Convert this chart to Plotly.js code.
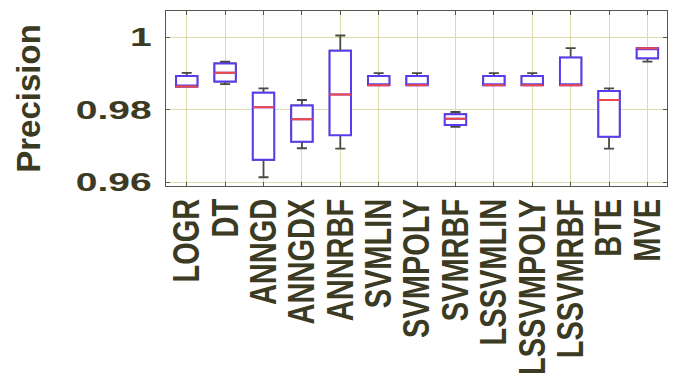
<!DOCTYPE html>
<html>
<head>
<meta charset="utf-8">
<script src="https://cdn.plot.ly/plotly-3.0.1.min.js"></script>
<style>
  html, body { margin: 0; padding: 0; background: #ffffff; }
  #chart { width: 674px; height: 390px; }
</style>
</head>
<body>
<div id="chart"></div>
<script>
// Categories (classifiers)
var categories = ["LOGR", "DT", "ANNGD", "ANNGDX", "ANNRBF", "SVMLIN", "SVMPOLY",
                  "SVMRBF", "LSSVMLIN", "LSSVMPOLY", "LSSVMRBF", "BTE", "MVE"];

// Box statistics
var upperWhisker = [0.9902, 0.9933, 0.9859, 0.9827, 1.0005, 0.9901, 0.9901,
                    0.9794, 0.9901, 0.9901, 0.9970, 0.9859, 0.9970];
var q3Values     = [0.9893, 0.9928, 0.9847, 0.9812, 0.9963, 0.9893, 0.9893,
                    0.9788, 0.9893, 0.9893, 0.9944, 0.9852, 0.9970];
var medianValues = [0.9864, 0.9902, 0.9807, 0.9774, 0.9842, 0.9868, 0.9868,
                    0.9775, 0.9868, 0.9868, 0.9868, 0.9827, 0.9970];
var q1Values     = [0.9864, 0.9878, 0.9662, 0.9712, 0.9730, 0.9868, 0.9868,
                    0.9758, 0.9868, 0.9868, 0.9868, 0.9726, 0.9942];
var lowerWhisker = [0.9864, 0.9871, 0.9614, 0.9694, 0.9693, 0.9868, 0.9868,
                    0.9753, 0.9868, 0.9868, 0.9868, 0.9693, 0.9933];

// Y tick labels
var yTickValues = [0.96, 0.98, 1];
var yTickLabels = ["0.96", "0.98", "1"];

var textColor = "#3b3a22";
var boxWidth = 0.557;

// Whiskers (dark)
var whiskers = {
  type: "box", x: categories,
  q1: q1Values, median: medianValues, q3: q3Values,
  lowerfence: lowerWhisker, upperfence: upperWhisker,
  width: boxWidth, whiskerwidth: 0.47,
  line: { color: "#4a4a40", width: 1.8 },
  fillcolor: "rgba(0,0,0,0)",
  boxpoints: false, hoverinfo: "skip", showlegend: false
};
// Boxes (blue)
var boxes = {
  type: "box", x: categories,
  q1: q1Values, median: medianValues, q3: q3Values,
  lowerfence: q1Values, upperfence: q3Values,
  width: boxWidth, whiskerwidth: 0,
  line: { color: "#5a3cf0", width: 2 },
  fillcolor: "rgba(255,255,255,1)",
  boxpoints: false, hoverinfo: "skip", showlegend: false
};
// Medians (red)
var medians = {
  type: "box", x: categories,
  q1: medianValues, median: medianValues, q3: medianValues,
  lowerfence: medianValues, upperfence: medianValues,
  width: boxWidth, whiskerwidth: 0,
  line: { color: "#f04848", width: 2 },
  fillcolor: "rgba(0,0,0,0)",
  boxpoints: false, hoverinfo: "skip", showlegend: false
};

var layout = {
  width: 674, height: 390,
  margin: { l: 166, r: 7, t: 11, b: 204 },
  paper_bgcolor: "#ffffff", plot_bgcolor: "#ffffff",
  boxmode: "overlay",
  showlegend: false,
  font: { family: "Liberation Sans", color: textColor },
  xaxis: {
    type: "category",
    range: [-0.54, 12.51],
    showgrid: true, gridcolor: "#dcdcae", gridwidth: 1,
    showline: true, linecolor: "#55554a", linewidth: 1.2, mirror: "allticks",
    ticks: "inside", ticklen: 4, tickcolor: "#55554a",
    tickangle: -90,
    tickfont: { family: "Liberation Sans", size: 29, weight: "bold", color: textColor },
    zeroline: false, fixedrange: true
  },
  yaxis: {
    range: [0.95898, 1.00726],
    tickvals: yTickValues, ticktext: yTickLabels,
    showgrid: true, gridcolor: "#dcdcae", gridwidth: 1,
    showline: true, linecolor: "#55554a", linewidth: 1.2, mirror: "allticks",
    ticks: "inside", ticklen: 4, tickcolor: "#55554a",
    ticklabelstandoff: 8,
    tickfont: { family: "Liberation Sans", size: 26, weight: "bold", color: textColor },
    title: { text: "Precision", standoff: 50,
             font: { family: "Liberation Sans", size: 33, weight: "bold", color: textColor } },
    zeroline: false, fixedrange: true
  }
};

Plotly.newPlot("chart", [whiskers, boxes, medians], layout, { displayModeBar: false, staticPlot: true })
  .then(function (gd) {
    // Widen tick-label glyphs horizontally, as in the reference rendering
    gd.querySelectorAll(".ytick text").forEach(function (t) {
      var b = t.getBBox(), r = b.x + b.width;
      var tr = t.getAttribute("transform") || "";
      t.setAttribute("transform", tr + " translate(" + r + ",0) scale(1.5,1) translate(" + (-r) + ",0)");
    });
    gd.querySelectorAll(".xtick text").forEach(function (t) {
      var b = t.getBBox(), cy = b.y + b.height / 2;
      var tr = t.getAttribute("transform") || "";
      t.setAttribute("transform", tr + " translate(0," + cy + ") scale(1,1.3) translate(0," + (-cy) + ")");
    });
  });
</script>
</body>
</html>
